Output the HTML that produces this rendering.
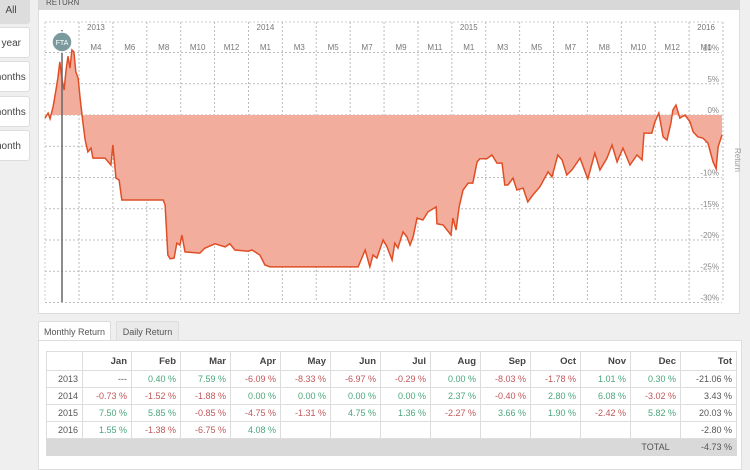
<!DOCTYPE html>
<html><head><meta charset="utf-8"><style>
body{margin:0;width:750px;height:464px;background:#efefef;font-family:"Liberation Sans",sans-serif;position:relative;overflow:hidden}
.btn{position:absolute;left:-8px;width:38px;height:31px;background:#fff;border:1px solid #ddd;border-radius:3px;font-size:10px;color:#444;line-height:31px;text-align:right;padding-right:0;box-sizing:border-box}
.btn span{margin-right:8px}
#panel{position:absolute;left:38px;top:0;width:702px;height:314px;background:#fff;border:1px solid #ddd;box-sizing:border-box}
#hdr{position:absolute;left:38px;top:-6px;width:702px;height:16px;background:#d8d8d8;font-size:8px;color:#555;padding-left:8px;box-sizing:border-box;line-height:18px}
.tab{position:absolute;top:321px;height:20px;font-size:9px;color:#555;line-height:20px;text-align:center;border:1px solid #ddd;border-bottom:none;box-sizing:border-box;border-radius:2px 2px 0 0}
#tbox{position:absolute;left:38px;top:340px;width:704px;height:130px;background:#fff;border:1px solid #ddd;box-sizing:border-box}
table{position:absolute;left:46px;top:351px;border-collapse:collapse;font-size:9px;color:#555}
td,th{border:1px solid #ddd;text-align:right;padding:0 4px;height:17px;box-sizing:border-box}
th{height:19px;font-weight:bold;color:#444;font-size:9.5px}
.g{color:#4aa67c}.r{color:#c0585a}
tr.tot td{background:#d9d9d9;border-color:#d9d9d9}
</style></head><body>
<div class="btn" style="top:-6px;height:30px;background:#ddd;text-align:center"><span style="margin-left:8px">All</span></div>
<div class="btn" style="top:27px"><span>l year</span></div>
<div class="btn" style="top:61px"><span>months</span></div>
<div class="btn" style="top:96px"><span>months</span></div>
<div class="btn" style="top:130px"><span>month</span></div>
<div id="panel"></div>
<div id="hdr">RETURN</div>
<svg id="chart" width="750" height="320" style="position:absolute;left:0;top:0"></svg>
<div class="tab" style="left:38px;width:73px;background:#fff">Monthly Return</div>
<div class="tab" style="left:116px;width:63px;background:#eaeaea">Daily Return</div>
<div id="tbox"></div>
<table>
<tr><th style="width:36px"></th><th style="width:49px">Jan</th><th style="width:49px">Feb</th><th style="width:50px">Mar</th><th style="width:50px">Apr</th><th style="width:50px">May</th><th style="width:50px">Jun</th><th style="width:50px">Jul</th><th style="width:50px">Aug</th><th style="width:50px">Sep</th><th style="width:50px">Oct</th><th style="width:50px">Nov</th><th style="width:50px">Dec</th><th style="width:56px">Tot</th></tr>
<tr><td>2013</td><td>---</td><td class="g">0.40 %</td><td class="g">7.59 %</td><td class="r">-6.09 %</td><td class="r">-8.33 %</td><td class="r">-6.97 %</td><td class="r">-0.29 %</td><td class="g">0.00 %</td><td class="r">-8.03 %</td><td class="r">-1.78 %</td><td class="g">1.01 %</td><td class="g">0.30 %</td><td>-21.06 %</td></tr>
<tr><td>2014</td><td class="r">-0.73 %</td><td class="r">-1.52 %</td><td class="r">-1.88 %</td><td class="g">0.00 %</td><td class="g">0.00 %</td><td class="g">0.00 %</td><td class="g">0.00 %</td><td class="g">2.37 %</td><td class="r">-0.40 %</td><td class="g">2.80 %</td><td class="g">6.08 %</td><td class="r">-3.02 %</td><td>3.43 %</td></tr>
<tr><td>2015</td><td class="g">7.50 %</td><td class="g">5.85 %</td><td class="r">-0.85 %</td><td class="r">-4.75 %</td><td class="r">-1.31 %</td><td class="g">4.75 %</td><td class="g">1.36 %</td><td class="r">-2.27 %</td><td class="g">3.66 %</td><td class="g">1.90 %</td><td class="r">-2.42 %</td><td class="g">5.82 %</td><td>20.03 %</td></tr>
<tr><td>2016</td><td class="g">1.55 %</td><td class="r">-1.38 %</td><td class="r">-6.75 %</td><td class="g">4.08 %</td><td></td><td></td><td></td><td></td><td></td><td></td><td></td><td></td><td>-2.80 %</td></tr>
<tr class="tot"><td colspan="12"></td><td style="text-align:center">TOTAL</td><td style="border-left:1px solid #ccc">-4.73 %</td></tr>
</table>
<script>
const weeks=[0,0.8,1.3,2.1,2.6,3.3,3.8,4.4,4.9,5.4,5.9,6.4,6.9,7.4,7.9,8.5,9.0,9.7,10.3,11.0,11.8,12.3,15.4,16.9,17.4,18.2,19.0,19.7,30.3,30.8,31.5,32.1,33.1,33.8,34.6,35.1,35.9,39.7,41.0,43.6,46.2,47.4,48.7,52.1,53.1,55.1,56.4,57.7,80.3,82.1,83.3,84.1,85.1,86.7,87.7,89.0,89.7,90.5,91.8,92.8,93.6,94.4,95.4,96.9,98.2,100.3,100.5,102.1,103.1,104.1,104.6,105.4,106.2,107.2,108.5,109.7,110.8,111.5,113.3,114.6,115.9,117.2,117.9,118.7,120.0,121.0,122.6,123.8,125.1,126.9,129.0,130.0,131.5,132.6,133.8,135.1,137.2,138.5,139.2,141.0,142.3,144.1,145.4,146.7,148.2,150.0,151.8,153.1,153.6,155.6,156.4,157.4,158.5,159.5,160.5,161.0,161.8,162.8,164.1,165.4,166.2,167.4,168.7,170.0,171.3,172.1,172.6,173.6];
const returns=[-0.5,0.3,-0.6,1.4,3.2,5.9,8.5,5.6,4.0,7.2,9.4,7.5,10.4,10.1,6.9,5.9,2.7,-1.1,-4.0,-5.9,-5.3,-6.9,-6.9,-8.0,-4.8,-10.1,-10.4,-13.6,-13.6,-14.4,-22.4,-23.0,-22.9,-20.5,-20.8,-19.2,-21.9,-22.1,-21.3,-20.6,-21.1,-20.6,-21.6,-21.8,-21.6,-22.4,-24.0,-24.3,-24.3,-21.6,-24.3,-22.4,-22.9,-20.0,-21.1,-23.2,-20.5,-21.3,-18.7,-19.5,-20.8,-19.5,-16.5,-16.8,-15.5,-14.7,-17.4,-17.6,-18.4,-19.2,-16.5,-18.4,-14.7,-12.0,-10.9,-10.9,-7.5,-7.0,-7.0,-6.4,-7.7,-7.7,-11.2,-11.2,-10.1,-12.0,-11.7,-13.9,-12.8,-11.5,-9.1,-9.9,-6.4,-7.2,-9.6,-8.8,-6.9,-9.1,-10.2,-6.1,-8.8,-6.9,-4.8,-7.5,-5.3,-8.0,-6.4,-7.2,-2.9,-2.9,-1.1,0.3,-3.5,-4.0,-1.3,0.8,1.6,-0.5,0.0,-1.1,-2.7,-3.5,-3.7,-4.5,-7.5,-8.6,-5.1,-3.2];
const yTicks=[10,5,0,-5,-10,-15,-20,-25,-30];
const monthLabels=["M4","M6","M8","M10","M12","M1","M3","M5","M7","M9","M11","M1","M3","M5","M7","M8","M10","M12","M1"];
const yearLabels=["2013","2014","2015","2016"];
const yearIdx=[0,5,11,18];
const NS="http://www.w3.org/2000/svg",svg=document.getElementById('chart');
const X0=45,X1=722,W0=0,W1=173.6;
const xs=w=>X0+(w-W0)/(W1-W0)*(X1-X0);
const ys=v=>115-v*6.25;
function mk(t,a,p){const e=document.createElementNS(NS,t);for(const k in a)e.setAttribute(k,a[k]);(p||svg).appendChild(e);return e;}
// horizontal grid
mk('line',{x1:X0,x2:X1,y1:22,y2:22,stroke:'#ccc','stroke-dasharray':'2,2'});
yTicks.forEach(v=>{const l=mk('line',{x1:X0,x2:X1,y1:ys(v),y2:ys(v),stroke:'#bbb','stroke-dasharray':'2,2'});

const t=mk('text',{x:X1-3,y:ys(v)-2,'text-anchor':'end','font-size':8,fill:'#888'});t.textContent=v+'%';
});
// vertical grid
const gx=[];for(let i=0;i<=19;i++)gx.push(79+i*((723-79)/19));
mk('line',{x1:X0,x2:X0,y1:22,y2:302,stroke:'#ccc','stroke-dasharray':'2,2'});
gx.forEach(x=>{mk('line',{x1:x,x2:x,y1:22,y2:302,stroke:'#bbb','stroke-dasharray':'2,2'});});
monthLabels.forEach((m,i)=>{const t=mk('text',{x:(gx[i]+gx[i+1])/2,y:50,'text-anchor':'middle','font-size':8,fill:'#777'});t.textContent=m;
});
yearLabels.forEach((y,i)=>{const j=yearIdx[i];const t=mk('text',{x:(gx[j]+gx[j+1])/2,y:30,'text-anchor':'middle','font-size':8,fill:'#777'});t.textContent=y;
});
// area & line
let d='M'+xs(weeks[0])+','+ys(0);weeks.forEach((w,i)=>d+='L'+xs(w)+','+ys(returns[i]));d+='L'+xs(weeks[weeks.length-1])+','+ys(0)+'Z';
const area=mk('path',{d:d,fill:'#f3ad9d'});

const ln=mk('polyline',{points:weeks.map((w,i)=>xs(w)+','+ys(returns[i])).join(' '),fill:'none',stroke:'#e04e26','stroke-width':1.5});

// flag line
mk('line',{x1:62,x2:62,y1:30,y2:302,stroke:'#666','stroke-width':1.5});
const fc=mk('circle',{cx:62,cy:42,r:10,fill:'#7a9a9e',stroke:'#fff','stroke-width':1.5});

const ft=mk('text',{x:62,y:45,'text-anchor':'middle','font-size':7,fill:'#fff'});ft.textContent='FTA';
const at=mk('text',{x:735,y:160,'text-anchor':'middle','font-size':8,fill:'#999',transform:'rotate(90 735 160)'});at.textContent='Return';

</script>
</body></html>
